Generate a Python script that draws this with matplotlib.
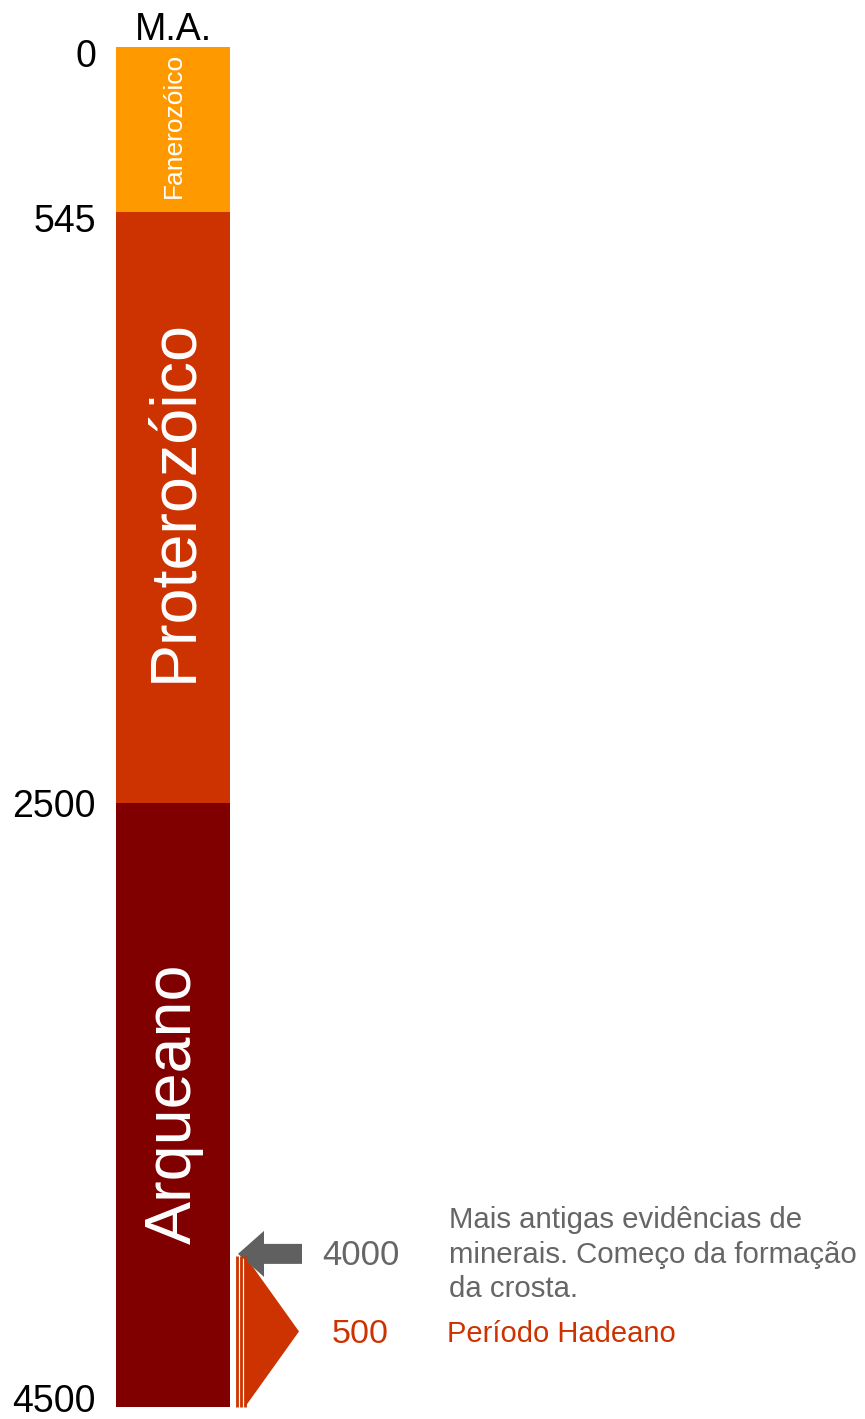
import matplotlib.pyplot as plt
from matplotlib.patches import Polygon, FancyArrow

plt.rcParams['font.family'] = ['Liberation Sans', 'DejaVu Sans']

# eons, in millions of years ago (M.A.)
eons = ['Fanerozóico', 'Proterozóico', 'Arqueano']
eon_start = [0, 545, 2500]
eon_end = [545, 2500, 4500]
eon_colors = ['#FF9900', '#CC3300', '#800000']
eon_label_size = [19, 46.5, 46.5]
eon_label_shift = [4, 7, 1]   # pixels up

ticks = [0, 545, 2500, 4500]
tick_shift = [-6, -6, 0, 9]   # small vertical nudges of the labels, pixels

hadean_start = 4000
hadean_end = 4500
hadean_len = hadean_end - hadean_start
minerals_note = 'Mais antigas evidências de\nminerais. Começo da formação\nda crosta.'
hadean_note = 'Período Hadeano'

W, H = 865, 1419
fig = plt.figure(figsize=(W / 100, H / 100), dpi=100)
ax = fig.add_axes([0, 0, 1, 1])
px = 4500 / (1407 - 47)          # Ma per pixel
ax.set_xlim(0, W)
ax.set_ylim((H - 47) * px, -47 * px)
ax.axis('off')

heights = [e - s for s, e in zip(eon_start, eon_end)]
ax.bar(173, heights, width=114, bottom=eon_start, color=eon_colors, linewidth=0)

for name, s, e, size, sh in zip(eons, eon_start, eon_end, eon_label_size, eon_label_shift):
    ax.text(174, (s + e) / 2 - sh * px, name, rotation=90, ha='center', va='center',
            color='white', fontsize=size)

ax.text(173, 0 - 7 * px, 'M.A.', ha='center', va='baseline', fontsize=27, color='black')

for t, sh in zip(ticks, tick_shift):
    ax.text(96, t - sh * px, str(t), ha='right', va='center_baseline',
            fontsize=27, color='black')

# hadean strip + triangle
for x in [236.5, 240.5, 244.5]:
    ax.vlines(x, hadean_start, hadean_end, color='#CC3300', linewidth=2)
tri = Polygon([(245, hadean_start), (299, hadean_start + hadean_len / 2), (245, hadean_end)],
              closed=True, facecolor='#CC3300', edgecolor='none')
ax.add_patch(tri)

# arrow pointing to 4000
arr = FancyArrow(302, hadean_start - 2 * px, -64, 0, width=20 * px, head_width=46 * px,
                 head_length=26, length_includes_head=True, color='#606060', linewidth=0)
ax.add_patch(arr)

ax.text(361, hadean_start - 4 * px, str(hadean_start), ha='center', va='center_baseline',
        fontsize=25, color='#666666')
ax.text(360, hadean_start + hadean_len / 2, str(hadean_len), ha='center',
        va='center_baseline', fontsize=24.5, color='#CC3300')

ax.text(449, hadean_start - 1 * px, minerals_note, ha='left', va='center',
        fontsize=21.2, color='#666666', linespacing=1.3)
ax.text(447, hadean_start + hadean_len / 2, hadean_note, ha='left',
        va='center_baseline', fontsize=21, color='#CC3300')

fig.savefig('out.png', dpi=100)
